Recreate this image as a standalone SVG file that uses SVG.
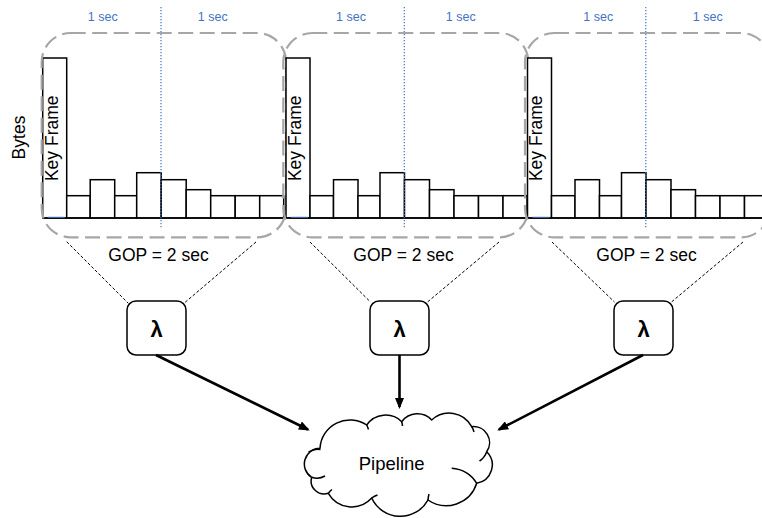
<svg xmlns="http://www.w3.org/2000/svg" width="762" height="518" viewBox="0 0 762 518">
  <style>
    .lbl { font-family: "Liberation Sans", Arial, sans-serif; fill: #000; }
    .sec { font-family: "Liberation Sans", Arial, sans-serif; font-size: 12.5px; fill: #4472c4; text-anchor: middle; }
    .gop { font-size: 17.5px; text-anchor: middle; }
    .frame { fill: none; stroke: #a6a6a6; stroke-width: 2.2; stroke-dasharray: 15 6.5; }
    .bar { fill: #fff; stroke: #000; stroke-width: 1.5; }
    .axis { stroke: #000; stroke-width: 1.5; fill: none; }
    .split { stroke: #4472c4; stroke-width: 1.2; stroke-dasharray: 1.2 1.8; fill: none; }
    .guide { stroke: #000; stroke-width: 1; stroke-dasharray: 3 2; fill: none; }
    .fn { fill: #fff; stroke: #000; stroke-width: 1.5; }
    .lam { font-family: "Liberation Sans", "DejaVu Sans", sans-serif; font-size: 22px; font-weight: bold; text-anchor: middle; }
    .arrow { stroke: #000; stroke-width: 2.6; fill: none; marker-end: url(#head); }
    .cloud { fill: #fff; stroke: #000; stroke-width: 1.5; stroke-linejoin: round; }
    .curl { fill: none; stroke: #000; stroke-width: 1.5; }
  </style>
  <defs>
    <marker id="head" markerWidth="11" markerHeight="9" refX="9" refY="4.5" orient="auto" markerUnits="userSpaceOnUse">
      <path d="M0,0 L11,4.5 L0,9 z" fill="#000"/>
    </marker>
    <!-- one GOP bar chart, drawn at local origin (key frame left edge, baseline y=218) -->
    <g id="chart">
      <rect class="bar" x="0" y="58" width="24" height="160"/>
      <rect class="bar" x="24" y="195.7" width="23.5" height="22.3"/>
      <rect class="bar" x="47.5" y="179.7" width="24.5" height="38.3"/>
      <rect class="bar" x="72" y="195.7" width="22" height="22.3"/>
      <rect class="bar" x="94" y="172.7" width="24.5" height="45.3"/>
      <rect class="bar" x="118.5" y="179.7" width="25" height="38.3"/>
      <rect class="bar" x="143.5" y="189.7" width="24.5" height="28.3"/>
      <rect class="bar" x="168" y="195.7" width="24.5" height="22.3"/>
      <rect class="bar" x="192.5" y="195.7" width="24.5" height="22.3"/>
      <rect class="bar" x="217" y="195.7" width="24" height="22.3"/>
      <line class="axis" x1="0" y1="218" x2="241" y2="218"/>
      <line x1="5" y1="217.3" x2="22" y2="217.3" stroke="#4472c4" stroke-width="1"/>
      <text class="lbl" font-size="17.5" text-anchor="middle" transform="translate(14.8,138.3) rotate(-90)">Key Frame</text>
      <line class="split" x1="118.3" y1="7" x2="118.3" y2="229"/>
    </g>
  </defs>

  <text class="lbl" font-size="17.5" text-anchor="middle" transform="translate(25.2,137.5) rotate(-90)">Bytes</text>

  <!-- GOP 1 -->
  <g id="gop1">
    <use href="#chart" x="42.7"/>
    <rect class="frame" x="41.7" y="33" width="244.3" height="204.3" rx="29"/>
    <text class="sec" x="102.7" y="20.7">1 sec</text>
    <text class="sec" x="212.7" y="20.7">1 sec</text>
    <text class="lbl gop" x="158.5" y="260.5">GOP = 2 sec</text>
  </g>

  <!-- GOP 2 -->
  <g id="gop2">
    <use href="#chart" x="286"/>
    <rect class="frame" x="283.3" y="33" width="245" height="204.3" rx="29"/>
    <text class="sec" x="351" y="20.7">1 sec</text>
    <text class="sec" x="460.7" y="20.7">1 sec</text>
    <text class="lbl gop" x="403.5" y="260.5">GOP = 2 sec</text>
  </g>

  <!-- GOP 3 -->
  <g id="gop3">
    <use href="#chart" x="527.5"/>
    <rect class="frame" x="525" y="33" width="245" height="204.3" rx="29"/>
    <text class="sec" x="598.3" y="20.7">1 sec</text>
    <text class="sec" x="707.7" y="20.7">1 sec</text>
    <text class="lbl gop" x="646.5" y="260.5">GOP = 2 sec</text>
  </g>

  <!-- Lambda functions -->
  <g id="fn1">
    <rect class="fn" x="127" y="301" width="59" height="54" rx="9"/>
    <text class="lam" x="156.5" y="336.5">λ</text>
  </g>
  <g id="fn2">
    <rect class="fn" x="370" y="301" width="59" height="54" rx="9"/>
    <text class="lam" x="399.5" y="336.5">λ</text>
  </g>
  <g id="fn3">
    <rect class="fn" x="614" y="301" width="59" height="54" rx="9"/>
    <text class="lam" x="643.5" y="336.5">λ</text>
  </g>

  <!-- Pipeline cloud -->
  <g id="pipeline">
    <path class="cloud" d="M320,448.3
      A30,30 0 0 1 366.7,425
      A23,23 0 0 1 401.7,421.7
      A19.6,19.6 0 0 1 431.7,420
      A25.5,25.5 0 0 1 471.7,426.7
      A16,16 0 0 1 486.7,451.7
      A18.6,18.6 0 0 1 476.7,483.3
      A32,32 0 0 1 428,500
      A31.6,31.6 0 0 1 371.7,498
      A27,27 0 0 1 328.3,493.3
      A13,13 0 0 1 311.7,477.3
      A15.7,15.7 0 0 1 320,448.3 Z"/>
    <path class="curl" d="M308.5,452 A16,16 0 0 1 320.5,449.5"/>
    <path class="curl" d="M311.7,477.3 A16,16 0 0 0 325,476"/>
    <path class="curl" d="M366.7,425 A30,30 0 0 1 368.5,429.5"/>
    <path class="curl" d="M401.7,421.7 A20,20 0 0 1 402.5,426"/>
    <path class="curl" d="M471.7,426.7 A16,16 0 0 1 474,432"/>
    <path class="curl" d="M486.7,451.7 A18,18 0 0 1 479.5,461"/>
    <path class="curl" d="M451.7,468.3 A32,32 0 0 1 476.7,483.3"/>
    <path class="curl" d="M428,500 A30,30 0 0 1 429,494"/>
    <path class="curl" d="M371.7,498 A28,28 0 0 1 377.5,495"/>
    <path class="curl" d="M328.3,493.3 A14,14 0 0 1 332,489.5"/>
    <text class="lbl" font-size="18.5" text-anchor="middle" x="391.7" y="470">Pipeline</text>
  </g>

  <!-- connectors -->
  <g id="connectors">
    <line class="guide" x1="66.7" y1="241.7" x2="128.3" y2="303.3"/>
    <line class="guide" x1="256" y1="242" x2="184.3" y2="303"/>
    <line class="guide" x1="310" y1="242" x2="370.5" y2="302"/>
    <line class="guide" x1="499" y1="242" x2="427.5" y2="302"/>
    <line class="guide" x1="552" y1="242" x2="614.5" y2="302"/>
    <line class="guide" x1="743" y1="242" x2="671.5" y2="302"/>
    <line class="arrow" x1="156" y1="355" x2="308" y2="429.5"/>
    <line class="arrow" x1="399.5" y1="355" x2="399.5" y2="407"/>
    <line class="arrow" x1="643" y1="355" x2="499" y2="429.5"/>
  </g>
</svg>
